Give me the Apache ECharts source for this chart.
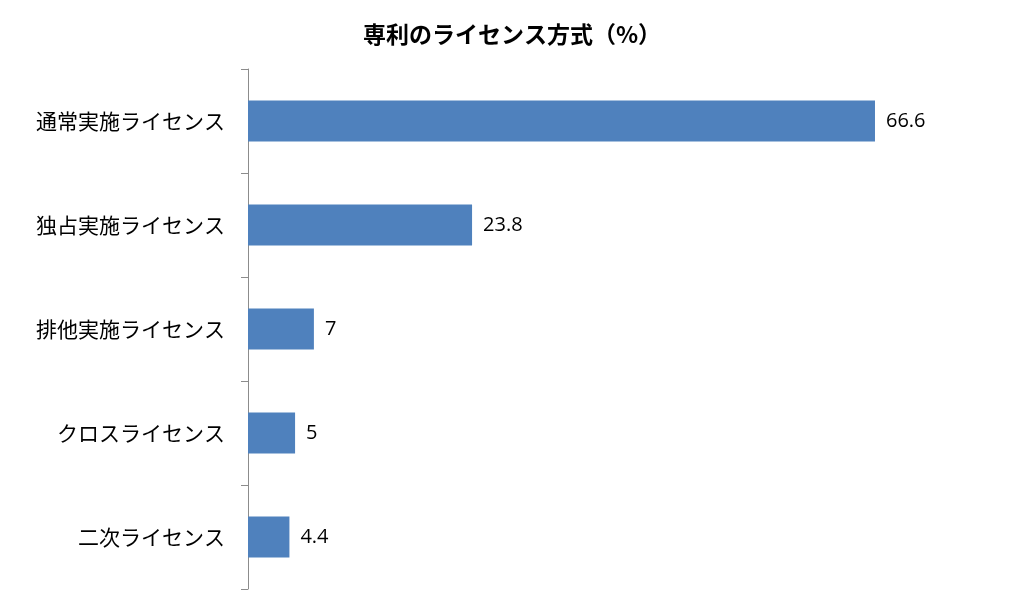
<!DOCTYPE html>
<html>
<head>
<meta charset="utf-8">
<script src="https://cdn.jsdelivr.net/npm/echarts@6/dist/echarts.min.js"></script>
<style>html,body{margin:0;padding:0;background:#fff}#c{width:1024px;height:615px}</style>
</head>
<body>
<div id="c"></div>
<script>
var titleText = '専利のライセンス方式（%）';
var categories = ['通常実施ライセンス', '独占実施ライセンス', '排他実施ライセンス', 'クロスライセンス', '二次ライセンス'];
var values = [66.6, 23.8, 7, 5, 4.4];

var chart = echarts.init(document.getElementById('c'));
chart.setOption({
  backgroundColor: '#ffffff',
  animation: false,
  title: {
    text: titleText,
    left: 'center',
    top: 18,
    textStyle: {fontFamily: 'Noto Sans CJK JP', fontSize: 23, fontWeight: 'bold', color: '#000'}
  },
  grid: {left: 248, right: 117, top: 69, bottom: 26, containLabel: false},
  xAxis: {
    type: 'value', min: 0, max: 70, show: false
  },
  yAxis: {
    type: 'category',
    data: categories,
    inverse: true,
    axisLine: {show: true, lineStyle: {color: '#8c8c8c', width: 1}},
    axisTick: {show: true, length: 7, lineStyle: {color: '#8c8c8c'}},
    axisLabel: {margin: 23, fontFamily: 'Noto Sans CJK JP', fontSize: 21, color: '#000'}
  },
  series: [{
    type: 'bar',
    data: values,
    barWidth: 41,
    itemStyle: {color: '#4F81BD'},
    label: {
      show: true, position: 'right', distance: 11,
      fontFamily: 'Open Sans, Noto Sans, sans-serif', fontSize: 20, color: '#000'
    }
  }]
});
</script>
</body>
</html>
